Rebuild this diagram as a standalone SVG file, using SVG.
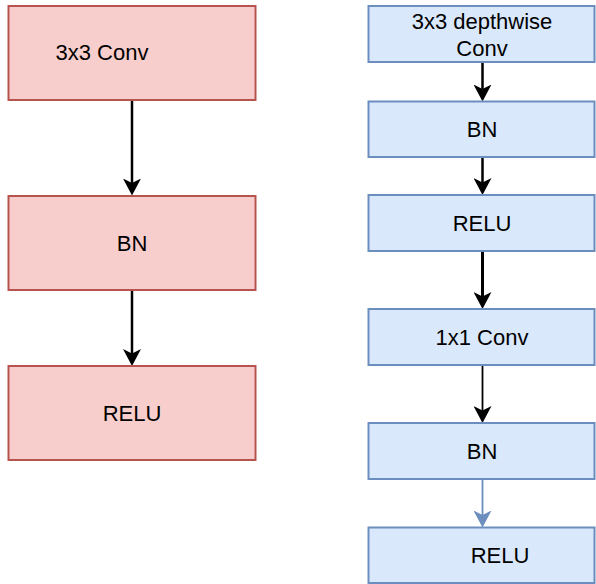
<svg xmlns="http://www.w3.org/2000/svg" width="596" height="584" viewBox="0 0 596 584">
<defs>
<style>
.pink{fill:#f8cecc;stroke:#b85450;stroke-width:2}
.blue{fill:#dae8fc;stroke:#6c8ebf;stroke-width:2}
.t{font-family:"Liberation Sans",Arial,sans-serif;font-size:22px;fill:#000}
.c{text-anchor:middle}
.e{fill:none;stroke:#000}
</style>
<marker id="ak" viewBox="0 0 17 18" refX="9" refY="9" markerWidth="17" markerHeight="18" orient="auto" markerUnits="userSpaceOnUse"><path d="M0,0 L17,9 L0,18 L4.5,9 Z" fill="#000"/></marker>
<marker id="ab" viewBox="0 0 17 18" refX="9" refY="9" markerWidth="17" markerHeight="18" orient="auto" markerUnits="userSpaceOnUse"><path d="M0,0 L17,9 L0,18 L4.5,9 Z" fill="#6c8ebf"/></marker>
</defs>
<rect width="596" height="584" fill="#fff"/>
<g id="connectors">
<line class="e" x1="132" y1="100" x2="132" y2="187.5" stroke-width="2.5" marker-end="url(#ak)"/>
<line class="e" x1="132" y1="290" x2="132" y2="358" stroke-width="2.5" marker-end="url(#ak)"/>
<line class="e" x1="482.5" y1="62" x2="482.5" y2="93.5" stroke-width="2.5" marker-end="url(#ak)"/>
<line class="e" x1="482.5" y1="157" x2="482.5" y2="187" stroke-width="2.5" marker-end="url(#ak)"/>
<line class="e" x1="482.5" y1="251" x2="482.5" y2="301" stroke-width="3" marker-end="url(#ak)"/>
<line class="e" x1="482.5" y1="365" x2="482.5" y2="415" stroke-width="1.8" marker-end="url(#ak)"/>
<line x1="482.5" y1="479" x2="482.5" y2="519.5" stroke="#6c8ebf" stroke-width="1.8" marker-end="url(#ab)"/>
</g>
<g id="left-conv"><rect class="pink" x="8.5" y="6" width="247" height="94"/><text class="t" x="55.5" y="60">3x3 Conv</text></g>
<g id="left-bn"><rect class="pink" x="8.5" y="196" width="247" height="94"/><text class="t c" x="132" y="251">BN</text></g>
<g id="left-relu"><rect class="pink" x="8.5" y="366" width="247" height="94"/><text class="t c" x="132" y="421">RELU</text></g>
<g id="right-dwconv"><rect class="blue" x="368.5" y="6" width="226" height="56"/><text class="t c" x="482" y="29">3x3 depthwise</text><text class="t c" x="482" y="56">Conv</text></g>
<g id="right-bn1"><rect class="blue" x="368.5" y="101.5" width="226" height="55.5"/><text class="t c" x="482" y="137">BN</text></g>
<g id="right-relu1"><rect class="blue" x="368.5" y="195" width="226" height="56"/><text class="t c" x="482" y="231">RELU</text></g>
<g id="right-pwconv"><rect class="blue" x="368.5" y="309" width="226" height="56"/><text class="t c" x="482" y="345">1x1 Conv</text></g>
<g id="right-bn2"><rect class="blue" x="368.5" y="423" width="226" height="56"/><text class="t c" x="482" y="459">BN</text></g>
<g id="right-relu2"><rect class="blue" x="368.5" y="527.5" width="226" height="55.5"/><text class="t c" x="500" y="563">RELU</text></g>
</svg>
